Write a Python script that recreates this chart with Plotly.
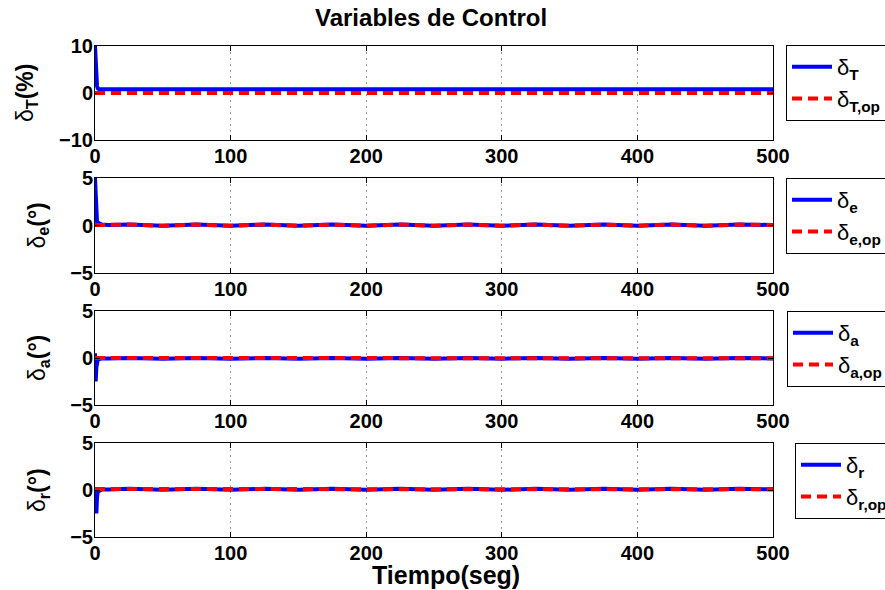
import plotly.graph_objects as go

# ---- data ----
t = [0, 0.5, 1, 1.5, 2, 3, 5, 10, 25, 50, 75, 100, 125, 150, 175, 200, 225, 250,
     275, 300, 325, 350, 375, 400, 425, 450, 475, 500]

dT    = [10, 6, 5, 1.5, 1.0, 0.8, 0.8, 0.8, 0.8, 0.8, 0.8, 0.8, 0.8, 0.8, 0.8, 0.8,
         0.8, 0.8, 0.8, 0.8, 0.8, 0.8, 0.8, 0.8, 0.8, 0.8, 0.8, 0.8]
dT_op = [0, 0, 0, 0, 0, 0, 0, 0, 0, 0, 0, 0, 0, 0, 0, 0, 0, 0, 0, 0, 0, 0, 0, 0,
         0, 0, 0, 0]

de    = [5.0, 2.0, 0.8, 0.4, 0.3, 0.2, 0.1, 0.05, 0.1, -0.03, 0.1, -0.02, 0.1,
         -0.03, 0.1, -0.02, 0.1, -0.03, 0.1, -0.02, 0.1, -0.03, 0.1, -0.02,
         0.1, -0.03, 0.1, 0.05]
de_op = [0.05, 0.05, 0.05, 0.05, 0.05, 0.05, 0.05, 0.05, 0.1, -0.03, 0.1, -0.02,
         0.1, -0.03, 0.1, -0.02, 0.1, -0.03, 0.1, -0.02, 0.1, -0.03, 0.1,
         -0.02, 0.1, -0.03, 0.1, 0.05]

da    = [0.5, -2.5, -1.0, -0.4, -0.2, -0.1, -0.05, -0.05, 0.0, -0.08, 0.0, -0.08,
         0.0, -0.08, 0.0, -0.08, 0.0, -0.08, 0.0, -0.08, 0.0, -0.08, 0.0, -0.08,
         0.0, -0.08, 0.0, -0.05]
da_op = [0.0, 0.0, 0.0, 0.0, 0.0, 0.0, 0.0, -0.02, 0.0, -0.06, 0.0, -0.06, 0.0,
         -0.06, 0.0, -0.06, 0.0, -0.06, 0.0, -0.06, 0.0, -0.06, 0.0, -0.06,
         0.0, -0.06, 0.0, -0.03]

dr    = [0.0, -1.5, -2.5, -0.8, -0.2, -0.1, 0.05, 0.05, 0.12, 0.02, 0.12, 0.02, 0.12,
         0.02, 0.12, 0.02, 0.12, 0.02, 0.12, 0.02, 0.12, 0.02, 0.12, 0.02, 0.12, 0.02,
         0.12, 0.08]
dr_op = [0.1, 0.1, 0.1, 0.1, 0.1, 0.1, 0.1, 0.1, 0.12, 0.03, 0.12, 0.03, 0.12,
         0.03, 0.12, 0.03, 0.12, 0.03, 0.12, 0.03, 0.12, 0.03, 0.12, 0.03, 0.12,
         0.03, 0.12, 0.08]

series = [
    (dT, dT_op, "T", [-10, 0, 10], "(%)"),
    (de, de_op, "e", [-5, 0, 5], "(°)"),
    (da, da_op, "a", [-5, 0, 5], "(°)"),
    (dr, dr_op, "r", [-5, 0, 5], "(°)"),
]
xticks = [0, 100, 200, 300, 400, 500]

# ---- layout geometry (pixels) ----
W, H = 885, 590
X0, X1 = 95, 773
panels = [(46, 140), (178, 273), (311, 405), (443, 537)]
legend_pos = [(786, 45), (786, 178), (787, 311), (795, 443)]
ylabel_x = [26, 38, 38, 38]

FONT = "Liberation Sans, Arial, Helvetica, sans-serif"

fig = go.Figure()
layout = dict(
    width=W, height=H,
    margin=dict(l=0, r=0, t=0, b=0, autoexpand=False),
    paper_bgcolor="white", plot_bgcolor="white",
    font=dict(family=FONT, color="black"),
    annotations=[],
)

for i, (blue, red, sub, yt, unit) in enumerate(series):
    n = "" if i == 0 else str(i + 1)
    leg = "legend" + n
    fig.add_trace(go.Scatter(
        x=t, y=blue, mode="lines", name="δ<sub><b>%s</b></sub>" % sub,
        line=dict(color="#0000ff", width=4), xaxis="x" + n, yaxis="y" + n,
        legend=leg))
    fig.add_trace(go.Scatter(
        x=t, y=red, mode="lines", name="δ<sub><b>%s,op</b></sub>" % sub,
        line=dict(color="#ff0000", width=4, dash="10px,6px"),
        xaxis="x" + n, yaxis="y" + n, legend=leg))

    top, bot = panels[i]
    common = dict(showline=True, linecolor="black", linewidth=1, mirror="ticks",
                  ticks="inside", ticklen=5, tickcolor="black", automargin=False,
                  zeroline=False,
                  tickfont=dict(family=FONT, size=20, color="black", weight="bold"))
    layout["xaxis" + n] = dict(
        common, domain=[X0 / W, X1 / W], range=[0, 500], tickvals=xticks,
        showgrid=True, gridcolor="#999999", griddash="2px,4px", gridwidth=1,
        ticklabelstandoff=-2, anchor="y" + n)
    layout["yaxis" + n] = dict(
        common, domain=[1 - bot / H, 1 - top / H], range=[yt[0], yt[-1]],
        tickvals=yt, showgrid=False, ticklabelstandoff=-3, anchor="x" + n)

    lx, ly = legend_pos[i]
    layout[leg] = dict(
        x=lx / W, y=1 - ly / H, xanchor="left", yanchor="top",
        bgcolor="white", bordercolor="black", borderwidth=1,
        itemwidth=40,
        font=dict(family=FONT, size=22, color="black"))

    layout["annotations"].append(dict(
        text="δ<sub><b>%s</b></sub><b>%s</b>" % (sub, unit),
        x=ylabel_x[i] / W, y=1 - (top + bot) / 2 / H, xref="paper", yref="paper",
        xanchor="center", yanchor="middle", textangle=-90, showarrow=False,
        font=dict(family=FONT, size=23, color="black")))

layout["annotations"].append(dict(
    text="<b>Variables de Control</b>", x=431 / W, y=1 - 18 / H,
    xref="paper", yref="paper", xanchor="center", yanchor="middle",
    showarrow=False, font=dict(family=FONT, size=24, color="black")))
layout["annotations"].append(dict(
    text="<b>Tiempo(seg)</b>", x=446 / W, y=1 - 575 / H,
    xref="paper", yref="paper", xanchor="center", yanchor="middle",
    showarrow=False, font=dict(family=FONT, size=25, color="black")))

fig.update_layout(**layout)
fig.write_html("out.html", config={"displayModeBar": False},
               post_script="document.body.style.margin='0';document.body.style.overflow='hidden';")
